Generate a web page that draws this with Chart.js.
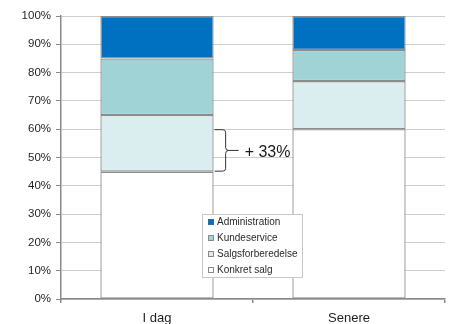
<!DOCTYPE html>
<html>
<head>
<meta charset="utf-8">
<script src="https://cdn.jsdelivr.net/npm/chart.js@4/dist/chart.umd.min.js"></script>
<style>
html,body{margin:0;padding:0;background:#fff;}
#wrap{width:454px;height:324px;position:relative;}
</style>
</head>
<body>
<div id="wrap"><canvas id="c" width="454" height="324"></canvas></div>
<script>
const categories = ['I dag', 'Senere'];
const konkretSalg = [45, 60];
const salgsforberedelse = [20, 17];
const kundeservice = [20, 11];
const administration = [15, 12];
const seriesNames = ['Konkret salg', 'Salgsforberedelse', 'Kundeservice', 'Administration'];
const seriesColors = ['#ffffff', '#daedef', '#9fd3d6', '#0070c0'];
const yTickValues = [0, 10, 20, 30, 40, 50, 60, 70, 80, 90, 100];
const braceFrom = 45;
const braceTo = 60;
const braceLabel = '+ 33%';

const FONT = '"Liberation Sans", Arial, sans-serif';

const braceAndLegend = {
  id: 'braceAndLegend',
  afterDatasetsDraw(chart) {
    const ctx = chart.ctx;
    const y = chart.scales.y;
    const bar = chart.getDatasetMeta(0).data[0];
    const x0 = bar.x + bar.width / 2 + 1;
    const yt = y.getPixelForValue(braceTo);
    const yb = y.getPixelForValue(braceFrom);
    const ym = (yt + yb) / 2;
    const xv = x0 + 11;
    const r = 3;
    ctx.save();
    ctx.strokeStyle = '#333';
    ctx.lineWidth = 1;
    ctx.beginPath();
    ctx.moveTo(x0, yt + 0.5);
    ctx.lineTo(xv - r, yt + 0.5);
    ctx.quadraticCurveTo(xv, yt + 0.5, xv, yt + r);
    ctx.lineTo(xv, ym - r);
    ctx.quadraticCurveTo(xv, ym, xv + r, ym);
    ctx.lineTo(xv + 13, ym);
    ctx.moveTo(xv + r, ym);
    ctx.quadraticCurveTo(xv, ym, xv, ym + r);
    ctx.lineTo(xv, yb - r);
    ctx.quadraticCurveTo(xv, yb - 0.5, xv - r, yb - 0.5);
    ctx.lineTo(x0, yb - 0.5);
    ctx.stroke();
    ctx.fillStyle = '#1a1a1a';
    ctx.font = '16px ' + FONT;
    ctx.textBaseline = 'middle';
    ctx.textAlign = 'left';
    ctx.fillText(braceLabel, xv + 19, ym + 2);
    ctx.restore();
  },
  afterDraw(chart) {
    const ctx = chart.ctx;
    const lx = 202.5, ly = 214.5, lw = 100, lh = 63;
    ctx.save();
    ctx.fillStyle = '#ffffff';
    ctx.fillRect(lx, ly, lw, lh);
    ctx.strokeStyle = '#c8c8c8';
    ctx.lineWidth = 1;
    ctx.strokeRect(lx, ly, lw, lh);
    ctx.font = '10px ' + FONT;
    ctx.textBaseline = 'middle';
    ctx.textAlign = 'left';
    const ds = chart.data.datasets;
    for (let i = 0; i < ds.length; i++) {
      const d = ds[ds.length - 1 - i];
      const cy = 222 + i * 16;
      ctx.fillStyle = d.backgroundColor;
      ctx.fillRect(208, cy - 3, 6, 6);
      ctx.strokeStyle = i === 0 ? '#2a6ea8' : '#8a8a8a';
      ctx.strokeRect(208.5, cy - 2.5, 5, 5);
      ctx.fillStyle = '#2b2b2b';
      ctx.fillText(d.label, 217, cy);
    }
    ctx.restore();
  }
};

const values = [konkretSalg, salgsforberedelse, kundeservice, administration];

new Chart(document.getElementById('c'), {
  type: 'bar',
  data: {
    labels: categories,
    datasets: values.map((v, i) => ({
      label: seriesNames[i],
      data: v,
      backgroundColor: seriesColors[i],
      borderColor: '#8c8c8c',
      borderWidth: 1.3,
      borderSkipped: false,
      barPercentage: 0.59,
      categoryPercentage: 1.0
    }))
  },
  options: {
    responsive: false,
    animation: false,
    devicePixelRatio: 1,
    layout: { padding: { left: 0, right: 9, top: 16, bottom: 0 } },
    plugins: { legend: { display: false }, tooltip: { enabled: false } },
    scales: {
      x: {
        stacked: true,
        grid: { drawOnChartArea: false, drawTicks: true, tickLength: 4, tickColor: '#8a8a8a', lineWidth: 1.5 },
        border: { color: '#8a8a8a', width: 1.5 },
        ticks: { color: '#1e1e1e', font: { family: FONT, size: 13 }, padding: 8 },
        afterFit(s) { s.height = 25; }
      },
      y: {
        stacked: true,
        min: 0,
        max: 100,
        afterBuildTicks(s) { s.ticks = yTickValues.map(v => ({ value: v })); },
        grid: { color: '#cfcfcf', lineWidth: 1, tickLength: 5, tickColor: '#8a8a8a' },
        border: { color: '#8a8a8a', width: 1.5 },
        ticks: { color: '#1f1f1f', font: { family: FONT, size: 11.5 }, padding: 5, callback: v => v + '%' },
        afterFit(s) { s.width = 61; }
      }
    }
  },
  plugins: [braceAndLegend]
});
</script>
</body>
</html>
